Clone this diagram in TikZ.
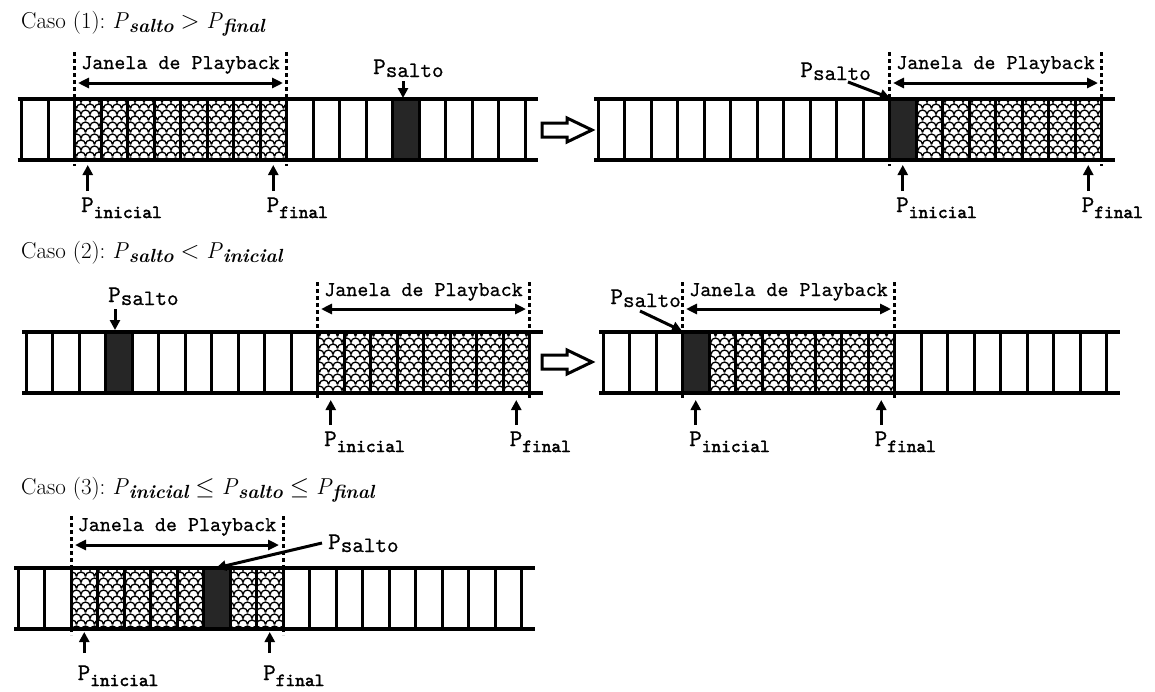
\documentclass[tikz,border=0pt]{standalone}
\usepackage{fontspec}
\usetikzlibrary{arrows.meta,patterns}

% typewriter faces with a slightly heavier stroke
\newfontfamily\scanmono{lmmono10-regular.otf}[FakeBold=0.6]
\newfontfamily\scanmonobf{lmmono10-regular.otf}[FakeBold=2.2]

% scale texture for the cells of the playback window
\pgfdeclarepatternformonly{fishscale}{\pgfqpoint{-1pt}{-1pt}}{\pgfqpoint{10pt}{13pt}}{\pgfqpoint{9pt}{12pt}}{%
  \pgfsetlinewidth{1.3pt}%
  \pgfpathmoveto{\pgfqpoint{0pt}{0.5pt}}%
  \pgfpatharc{180}{0}{4.5pt}%
  \pgfpathmoveto{\pgfqpoint{-4.5pt}{6.5pt}}%
  \pgfpatharc{180}{0}{4.5pt}%
  \pgfpathmoveto{\pgfqpoint{4.5pt}{6.5pt}}%
  \pgfpatharc{180}{0}{4.5pt}%
  \pgfusepath{stroke}%
}

\newcommand\cellw{26.5}
\newcommand\cellh{61}

% a buffer of 19 cells: left x, top y, first and last window cell, jump cell
\newcommand\tapestrip[5]{%
  \fill[white] (#1,#2) rectangle ({#1+19*\cellw},{#2+\cellh});
  \fill[pattern=fishscale] ({#1+#3*\cellw},#2) rectangle ({#1+(#4+1)*\cellw},{#2+\cellh});
  \fill[darkcell] ({#1+#5*\cellw},#2) rectangle ({#1+(#5+1)*\cellw},{#2+\cellh});
  \foreach \k in {0,...,19}{\draw[cellwall] ({#1+\k*\cellw},#2) -- ({#1+\k*\cellw},{#2+\cellh});}
  \draw[rail] ({#1-4},#2) -- ({#1+19*\cellw+13},#2);
  \draw[rail] ({#1-4},{#2+\cellh}) -- ({#1+19*\cellw+13},{#2+\cellh});
}

% pointer names in the headings and in the buffer labels
\newcommand\Pvar[1]{\textit{P}\raisebox{-4pt}{\fontsize{19}{19}\selectfont\bfseries\itshape #1}}
\newcommand\Pidx[1]{{\fontsize{24}{24}\selectfont P}\raisebox{-6pt}{\scanmonobf\fontsize{18.5}{18.5}\selectfont #1}}
\newcommand\Psal{{\fontsize{24}{24}\selectfont P}\raisebox{-3pt}{\fontsize{22}{22}\selectfont salto}}

\begin{document}
\begin{tikzpicture}[x=1pt,y=-1pt,
  cellwall/.style={line width=3pt},
  rail/.style={line width=3.2pt},
  darkcell/.style={fill=black!85},
  windowedge/.style={line width=3pt, dash pattern=on 4pt off 3pt},
  spanarrow/.style={line width=3pt, {Triangle[length=11pt,width=10pt]}-{Triangle[length=11pt,width=10pt]}},
  ptr/.style={line width=3pt, -{Triangle[length=10pt,width=10pt]}},
  winlabel/.style={font=\scanmono\fontsize{21}{21}\selectfont, inner sep=0pt},
  plabel/.style={font=\scanmono, inner sep=0pt},
  caso/.style={font=\fontsize{23}{23}\selectfont, inner sep=0pt, anchor=base west},
  jump/.style={line width=3pt, line join=miter},
]
\fill[white] (0,0) rectangle (1155,691);
\useasboundingbox (0,0) rectangle (1155,691);

% ---------------- Caso (1) ----------------
\node[caso] (caso1) at (21,28) {Caso (1):\ \Pvar{salto} $>$ \Pvar{final}};

\tapestrip{21.5}{99}{2}{9}{14}
\draw[windowedge] (74.5,52) -- (74.5,166);
\draw[windowedge] (286.5,52) -- (286.5,166);
\node[winlabel] (win1a) at (180.5,65) {Janela de Playback};
\coordinate (w1al) at (78,83);
\coordinate (w1ar) at (283,83);
\draw[spanarrow] (w1al) -- (w1ar);
\node[plabel, anchor=base west] (ps1a) at (373,74) {\Psal};
\coordinate (ps1atail) at (403,81);
\coordinate (ps1atip) at (403,98);
\draw[ptr] (ps1atail) -- (ps1atip);
\coordinate (pi1atail) at (87.75,191);
\coordinate (pi1atip) at (87.75,165);
\draw[ptr] (pi1atail) -- (pi1atip);
\node[plabel, anchor=base west] (pi1a) at (81,212) {\Pidx{inicial}};
\coordinate (pf1atail) at (273.25,191);
\coordinate (pf1atip) at (273.25,165);
\draw[ptr] (pf1atail) -- (pf1atip);
\node[plabel, anchor=base west] (pf1a) at (266.5,212) {\Pidx{final}};

% transition arrow
\draw[jump] (542,123) -- (567,123) -- (567,118) -- (592,130) -- (567,142) -- (567,137) -- (542,137) -- cycle;

\tapestrip{598}{99}{11}{18}{11}
\draw[windowedge] (889.5,52) -- (889.5,166);
\draw[windowedge] (1101.5,52) -- (1101.5,166);
\node[winlabel] (win1b) at (995.5,65) {Janela de Playback};
\coordinate (w1bl) at (893,83);
\coordinate (w1br) at (1098,83);
\draw[spanarrow] (w1bl) -- (w1br);
\node[plabel, anchor=base east] (ps1b) at (871,77) {\Psal};
\coordinate (ps1btail) at (848,82);
\coordinate (ps1btip) at (890,98);
\draw[ptr] (ps1btail) -- (ps1btip);
\coordinate (pi1btail) at (902.75,191);
\coordinate (pi1btip) at (902.75,165);
\draw[ptr] (pi1btail) -- (pi1btip);
\node[plabel, anchor=base west] (pi1b) at (896,212) {\Pidx{inicial}};
\coordinate (pf1btail) at (1088.25,191);
\coordinate (pf1btip) at (1088.25,165);
\draw[ptr] (pf1btail) -- (pf1btip);
\node[plabel, anchor=base west] (pf1b) at (1081.5,212) {\Pidx{final}};

% ---------------- Caso (2) ----------------
\node[caso] (caso2) at (21,258) {Caso (2):\ \Pvar{salto} $<$ \Pvar{inicial}};

\tapestrip{26}{332}{11}{18}{3}
\draw[windowedge] (317.5,282) -- (317.5,399);
\draw[windowedge] (529.5,282) -- (529.5,399);
\node[winlabel] (win2a) at (423.5,292) {Janela de Playback};
\coordinate (w2al) at (321,309);
\coordinate (w2ar) at (526,309);
\draw[spanarrow] (w2al) -- (w2ar);
\node[plabel, anchor=base west] (ps2a) at (108,302) {\Psal};
\coordinate (ps2atail) at (115,309);
\coordinate (ps2atip) at (115,330);
\draw[ptr] (ps2atail) -- (ps2atip);
\coordinate (pi2atail) at (330.75,425);
\coordinate (pi2atip) at (330.75,400);
\draw[ptr] (pi2atail) -- (pi2atip);
\node[plabel, anchor=base west] (pi2a) at (324,446) {\Pidx{inicial}};
\coordinate (pf2atail) at (516.25,425);
\coordinate (pf2atip) at (516.25,400);
\draw[ptr] (pf2atail) -- (pf2atip);
\node[plabel, anchor=base west] (pf2a) at (509.5,446) {\Pidx{final}};

\draw[jump] (542,355) -- (567,355) -- (567,350) -- (592,362) -- (567,374) -- (567,369) -- (542,369) -- cycle;

\tapestrip{603}{332}{3}{10}{3}
\draw[windowedge] (682.5,282) -- (682.5,399);
\draw[windowedge] (894.5,282) -- (894.5,399);
\node[winlabel] (win2b) at (788.5,292) {Janela de Playback};
\coordinate (w2bl) at (686,309);
\coordinate (w2br) at (891,309);
\draw[spanarrow] (w2bl) -- (w2br);
\node[plabel, anchor=base east] (ps2b) at (681,304) {\Psal};
\coordinate (ps2btail) at (640,311);
\coordinate (ps2btip) at (682,331);
\draw[ptr] (ps2btail) -- (ps2btip);
\coordinate (pi2btail) at (695.75,425);
\coordinate (pi2btip) at (695.75,400);
\draw[ptr] (pi2btail) -- (pi2btip);
\node[plabel, anchor=base west] (pi2b) at (689,446) {\Pidx{inicial}};
\coordinate (pf2btail) at (881.25,425);
\coordinate (pf2btip) at (881.25,400);
\draw[ptr] (pf2btail) -- (pf2btip);
\node[plabel, anchor=base west] (pf2b) at (874.5,446) {\Pidx{final}};

% ---------------- Caso (3) ----------------
\node[caso] (caso3) at (21,494) {Caso (3):\ \Pvar{inicial} $\le$ \Pvar{salto} $\le$ \Pvar{final}};

\tapestrip{18}{568}{2}{9}{7}
\draw[windowedge] (71,516) -- (71,635);
\draw[windowedge] (283,516) -- (283,635);
\node[winlabel] (win3) at (177,527) {Janela de Playback};
\coordinate (w3l) at (75,545);
\coordinate (w3r) at (279,545);
\draw[spanarrow] (w3l) -- (w3r);
\node[plabel, anchor=base west] (ps3) at (328,549) {\Psal};
\coordinate (ps3tail) at (322,543);
\coordinate (ps3tip) at (216,568);
\draw[ptr] (ps3tail) -- (ps3tip);
\coordinate (pi3tail) at (84.25,653);
\coordinate (pi3tip) at (84.25,632);
\draw[ptr] (pi3tail) -- (pi3tip);
\node[plabel, anchor=base west] (pi3) at (77.5,680) {\Pidx{inicial}};
\coordinate (pf3tail) at (269.75,653);
\coordinate (pf3tip) at (269.75,632);
\draw[ptr] (pf3tail) -- (pf3tip);
\node[plabel, anchor=base west] (pf3) at (263,680) {\Pidx{final}};
\end{tikzpicture}
\end{document}
